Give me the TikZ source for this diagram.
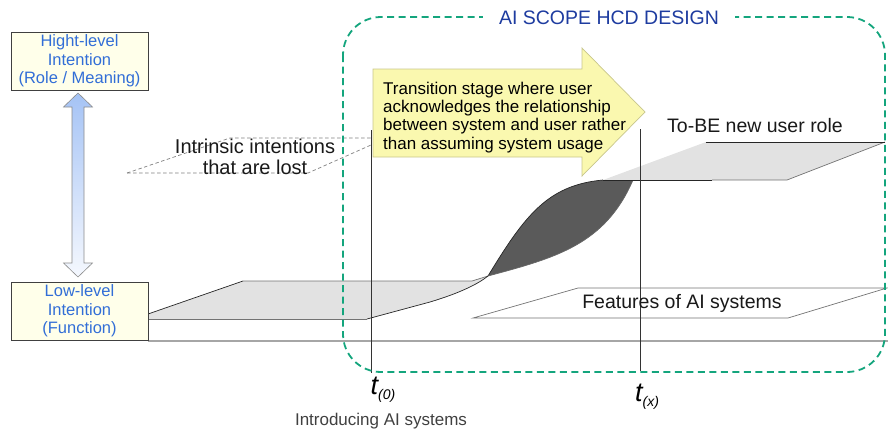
\documentclass[tikz,border=0pt]{standalone}
\usepackage{fontspec}
\setmainfont{Liberation Sans}
\definecolor{hcdgreen}{RGB}{20,165,125}
\definecolor{intentblue}{RGB}{50,110,215}
\definecolor{titleblue}{RGB}{30,60,160}
\definecolor{planegray}{RGB}{226,226,226}
\definecolor{lensgray}{RGB}{90,90,90}
\definecolor{notefill}{RGB}{250,248,175}
\definecolor{noteedge}{RGB}{200,198,140}
\definecolor{boxfill}{RGB}{255,255,234}
\definecolor{arrowtop}{RGB}{165,195,245}
\definecolor{arrowbot}{RGB}{245,248,254}
\tikzset{
  intentbox/.style={draw=black!75, fill=boxfill, text=intentblue, align=center,
    minimum width=137pt, minimum height=58pt, inner sep=0pt,
    font=\fontsize{16.5}{18.5}\selectfont},
  planeedge/.style={draw=black!55, line width=0.7pt},
  darkedge/.style={draw=black!85, line width=0.7pt},
  timeline/.style={draw=black!80, line width=0.7pt},
  lostline/.style={draw=black!50, line width=0.7pt, dash pattern=on 3.5pt off 2.5pt},
  planelabel/.style={font=\fontsize{19.5}{21}\selectfont, text=black!90},
  scopebox/.style={draw=hcdgreen, line width=1.8pt, dash pattern=on 7pt off 4.5pt, rounded corners=38pt},
}
\begin{document}
\begin{tikzpicture}[x=1pt,y=-1pt]
\useasboundingbox (0,0) rectangle (888,429);

% lower plane: current functions
\fill[planegray] (148,314) -- (243,281) -- (472,281) -- (488,276)
  .. controls (478,284) and (460,293) .. (430,302) -- (367,319) -- (148,319) -- cycle;
\draw[darkedge] (148,314) -- (243,281);
\draw[planeedge] (243,281) -- (472,281) -- (488,276);
\draw[planeedge] (148,319) -- (367,319);
\draw[darkedge] (367,319) -- (430,302) .. controls (460,293) and (478,284) .. (488,276);

% transition lens
\fill[lensgray] (488,276) .. controls (525,215) and (548,185) .. (603,180) -- (633,180)
  .. controls (605,245) and (555,258) .. (488,276) -- cycle;
\draw[darkedge] (488,276) .. controls (525,215) and (548,185) .. (603,180);
\draw[draw=black!60, line width=0.7pt] (488,276) .. controls (555,258) and (605,245) .. (633,180);

% upper plane: new user role
\fill[planegray] (603,180) -- (787,180) -- (885,142) -- (706,142) -- cycle;
\draw[darkedge] (603,180) -- (712,180);
\draw[planeedge] (712,180) -- (787,180) -- (885,142);
\draw[darkedge] (885,142) -- (706,142);

% plane of AI features
\draw[planeedge, fill=white] (473,318) -- (788,318) -- (887,288) -- (578,288) -- cycle;

% ground line
\draw[draw=black!35, line width=2.2pt] (148,341) -- (888,341);

% lost intentions (dashed plane)
\draw[lostline] (127,173) -- (230,138) -- (371,138);
\draw[lostline] (127,173) -- (308,173) -- (371,145);

% time markers
\coordinate (t0top) at (371,130);
\coordinate (t0bot) at (371,373);
\coordinate (txtop) at (640,129);
\coordinate (txbot) at (640,371);
\draw[timeline] (t0top) -- (t0bot);
\draw[timeline] (txtop) -- (txbot);

% scope frame
\draw[scopebox] (343,17) rectangle (885,372);
\node[fill=white, text=titleblue, inner xsep=16pt, inner ysep=2pt,
  font=\fontsize{19.5}{21}\selectfont] (title) at (609,18) {AI SCOPE HCD DESIGN};

% transition note arrow
\draw[fill=notefill, draw=noteedge, line width=0.7pt]
  (373,69) -- (582,69) -- (582,48) -- (645,112) -- (582,176) -- (582,157) -- (373,157) -- cycle;
\node[anchor=north west, inner sep=0pt, align=left,
  font=\fontsize{17}{18.4}\selectfont] (note) at (383,81.5)
  {Transition stage where user\\acknowledges the relationship\\between system and user rather\\than assuming system usage};

% intention level boxes
\node[intentbox] (hi) at (79.5,61) {Hight-level\\Intention\\(Role / Meaning)};
\node[intentbox] (lo) at (79.5,311) {Low-level\\Intention\\(Function)};

% vertical double arrow between levels
\shade[top color=arrowtop, bottom color=arrowbot, draw=black!45, line width=0.6pt]
  (78,93) -- (92.5,107) -- (84,107) -- (84,263) -- (92.5,263) -- (78,277)
  -- (63.5,263) -- (72,263) -- (72,107) -- (63.5,107) -- cycle;

% labels
\node[font=\fontsize{20}{20.5}\selectfont, align=center, text=black!90] (lost) at (255,157)
  {Intrinsic intentions\\that are lost};
\node[planelabel] (tobe) at (755,126) {To-BE new user role};
\node[planelabel] (feat) at (682,303) {Features of AI systems};
\node (t0lab) at (383,390) {{\fontsize{27}{27}\selectfont\itshape t}\raisebox{-5pt}{\fontsize{14}{14}\selectfont\itshape (0)}};
\node (txlab) at (647,397) {{\fontsize{27}{27}\selectfont\itshape t}\raisebox{-5pt}{\fontsize{14}{14}\selectfont\itshape (x)}};
\node[font=\fontsize{17}{18}\selectfont, text=black!75] (intro) at (381,421) {Introducing AI systems};
\end{tikzpicture}
\end{document}
